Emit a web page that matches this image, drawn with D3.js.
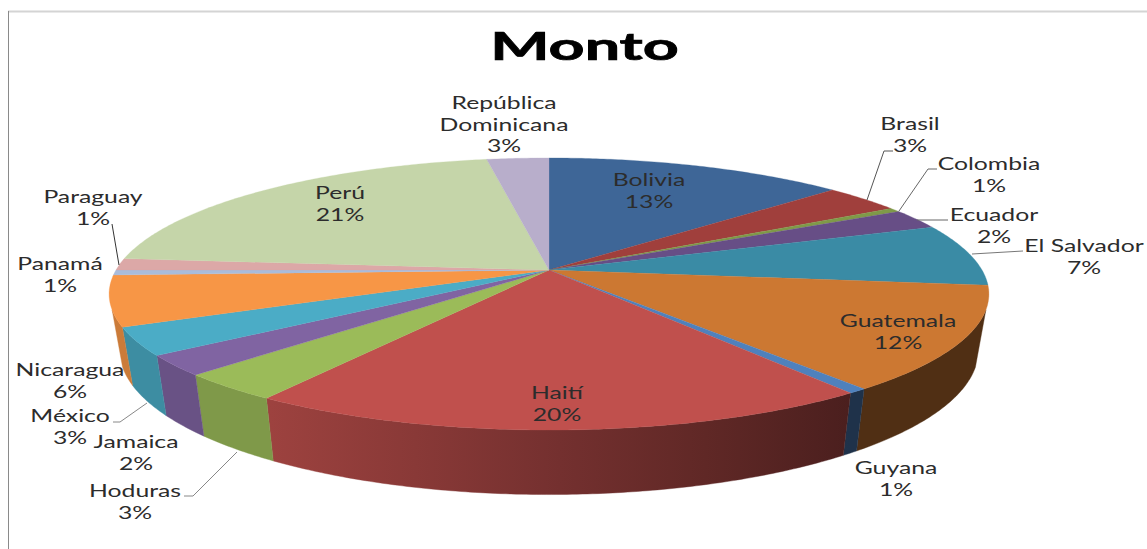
<!DOCTYPE html>
<html lang="es">
<head>
<meta charset="utf-8">
<title>Monto</title>
<script src="https://cdn.jsdelivr.net/npm/d3@7"></script>
<style>
  html, body { margin: 0; padding: 0; background: #fff; overflow: hidden; }
  svg { display: block; }
</style>
</head>
<body>
<svg id="chart" width="1147" height="549"></svg>
<script>
// Chart content
const chartTitle = "Monto";
const categories = ["Bolivia", "Brasil", "Colombia", "Ecuador", "El Salvador", "Guatemala", "Guyana", "Haití",
                    "Hoduras", "Jamaica", "México", "Nicaragua", "Panamá", "Paraguay", "Perú", "República Dominicana"];
const shares = [13.1, 3.4, 0.5, 2.4, 7.4, 12.4, 0.6, 19.6, 3.3, 2.4, 3.3, 6.0, 0.6, 1.4, 20.9, 2.7];
const topColors = ["#3E6697", "#A03F3C", "#7F9A48", "#674E86", "#3A8BA5", "#CC7832", "#4F81BD", "#C0504D",
                   "#9BBB59", "#8064A2", "#4BACC6", "#F79646", "#A9BCDB", "#DCA8A7", "#C5D5A9", "#B8AECB"];

// Label placement: centre x, centre y of the first line, wrapped lines of the name
const labelLayout = {
  "Bolivia":     { x: 649, y: 179 },
  "Brasil":      { x: 910, y: 123 },
  "Colombia":    { x: 989, y: 163 },
  "Ecuador":     { x: 994, y: 214 },
  "El Salvador": { x: 1084, y: 245 },
  "Guatemala":   { x: 898, y: 320 },
  "Guyana":      { x: 896, y: 467 },
  "Haití":       { x: 557, y: 392 },
  "Hoduras":     { x: 135, y: 490 },
  "Jamaica":     { x: 136, y: 441 },
  "México":      { x: 70, y: 415 },
  "Nicaragua":   { x: 70, y: 369 },
  "Panamá":      { x: 60, y: 263 },
  "Paraguay":    { x: 93, y: 196 },
  "Perú":        { x: 340, y: 192 },
  "República Dominicana": { x: 504, y: 102, lines: ["República", "Dominicana"] }
};

// Leader lines running from a label to its slice
const leaders = [
  { points: [[867, 200], [884, 151], [893, 151]], stroke: "#555" },
  { points: [[899, 211], [928, 169], [937, 169]], stroke: "#666" },
  { points: [[917, 220], [948, 220]], stroke: "#666" },
  { points: [[972, 254], [1023, 251]], stroke: "#777" },
  { points: [[112, 224], [119, 265]], stroke: "#333" },
  { points: [[147, 403], [120, 422], [113, 422]], stroke: "#888" },
  { points: [[237, 452], [193, 496], [184, 496]], stroke: "#888" }
];

// Perspective of the pie: a tilted disc, with the far rim compressed
const pieCentre = { x: 549, y: 270 };
const perspective = 0.1765;
const spreadX = 433;
const spreadY = 131.8;
// The lower rim of the pie, expressed relative to the upper rim
const lowerScaleX = 0.976, lowerScaleY = 1.06, lowerShiftY = 38.7;
// Angular range of the rim that faces the viewer
const wallFrom = 106.7 * Math.PI / 180, wallTo = 253.3 * Math.PI / 180;
// Lettering is wider than the font's natural proportions
const labelStretch = 1.5, titleStretch = 1.61;

function projectTop(angle) {
  const u = Math.sin(angle), v = Math.cos(angle), w = 1 + perspective * v;
  return [pieCentre.x + spreadX * u / w, pieCentre.y - spreadY * v / w];
}
function projectBottom(angle) {
  const [x, y] = projectTop(angle);
  return [pieCentre.x + lowerScaleX * (x - pieCentre.x), lowerScaleY * y + lowerShiftY];
}
function sampleAngles(a0, a1) {
  const n = Math.max(2, Math.ceil((a1 - a0) / 0.01));
  return d3.range(n + 1).map(i => a0 + (a1 - a0) * i / n);
}

const svg = d3.select("#chart");
const line = d3.line();
const outline = d3.line().curve(d3.curveLinearClosed);

// Pie angles, clockwise from twelve o'clock in category order
const arcs = d3.pie().sort(null).value(d => d.value)(
  categories.map((name, i) => ({ name, value: shares[i], color: topColors[i] }))
);

// Frame of the chart area
svg.append("path").attr("d", line([[8, 11.5], [1147, 11.5]])).attr("stroke", "#d4d4d4").attr("stroke-width", 2).attr("fill", "none");
svg.append("path").attr("d", line([[8.5, 11], [8.5, 549]])).attr("stroke", "#8a8a8a").attr("stroke-width", 1).attr("fill", "none");

// Rim shading: light on the left, getting darker towards the right
const shade = d3.scaleLinear().domain([270, 850]).range([0.82, 0.39]).clamp(true);
const defs = svg.append("defs");
arcs.forEach((d, i) => {
  const rimBase = d3.rgb(d.data.color);
  const g = defs.append("linearGradient").attr("id", "rim" + i)
    .attr("gradientUnits", "userSpaceOnUse")
    .attr("x1", shade.domain()[0]).attr("x2", shade.domain()[1]).attr("y1", 0).attr("y2", 0);
  [0, 0.25, 0.5, 0.75, 1].forEach(t => {
    const f = shade(shade.domain()[0] + t * (shade.domain()[1] - shade.domain()[0]));
    g.append("stop").attr("offset", t)
      .attr("stop-color", d3.rgb(rimBase.r * f, rimBase.g * f, rimBase.b * f).formatHex());
  });
});

// Rim of the slices that face the viewer
svg.append("g").selectAll("path")
  .data(arcs.map((d, i) => ({ d, i })).filter(({ d }) => d.endAngle > wallFrom && d.startAngle < wallTo))
  .join("path")
  .attr("d", ({ d }) => {
    const angles = sampleAngles(Math.max(d.startAngle, wallFrom), Math.min(d.endAngle, wallTo));
    return outline(angles.map(projectTop).concat(angles.slice().reverse().map(projectBottom)));
  })
  .attr("fill", ({ i }) => `url(#rim${i})`)
  .attr("stroke", ({ i }) => `url(#rim${i})`)
  .attr("stroke-width", 0.4);

// Upper face of the slices
svg.append("g").selectAll("path")
  .data(arcs)
  .join("path")
  .attr("d", d => outline([[pieCentre.x, pieCentre.y]].concat(sampleAngles(d.startAngle, d.endAngle).map(projectTop))))
  .attr("fill", d => d.data.color)
  .attr("stroke", d => d.data.color)
  .attr("stroke-width", 0.3);

// Leader lines
svg.append("g").selectAll("path")
  .data(leaders)
  .join("path")
  .attr("d", d => line(d.points))
  .attr("fill", "none")
  .attr("stroke", d => d.stroke)
  .attr("stroke-width", 1);

// Title
svg.append("text")
  .attr("transform", `translate(584.5,60) scale(${titleStretch},1)`)
  .attr("text-anchor", "middle")
  .style("font", "700 39px Lato")
  .attr("fill", "#000")
  .attr("stroke", "#000")
  .attr("stroke-width", 0.7)
  .text(chartTitle);

// Slice labels: name on top, rounded share beneath
const lineStep = 21.6;
const labels = svg.append("g").selectAll("text")
  .data(arcs)
  .join("text")
  .attr("transform", d => `translate(${labelLayout[d.data.name].x},0) scale(${labelStretch},1)`)
  .attr("text-anchor", "middle")
  .attr("dominant-baseline", "central")
  .style("font", "400 16.5px Lato")
  .attr("fill", "#2c2c2c");
labels.each(function (d) {
  const spot = labelLayout[d.data.name];
  const rows = (spot.lines || [d.data.name]).concat(Math.round(d.data.value) + "%");
  d3.select(this).selectAll("tspan").data(rows).join("tspan")
    .attr("x", 0)
    .attr("y", (r, i) => spot.y + i * lineStep)
    .text(r => r);
});
</script>
</body>
</html>
